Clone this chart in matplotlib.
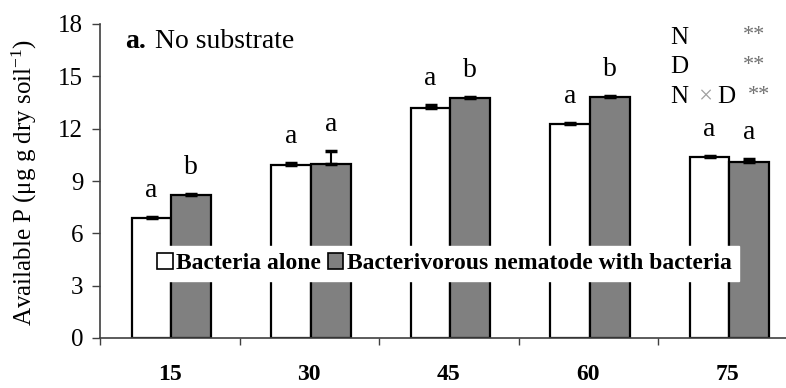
import numpy as np
import matplotlib
matplotlib.use("Agg")
import matplotlib.pyplot as plt
from matplotlib.patches import Patch

plt.rcParams['font.family'] = ['Liberation Serif', 'DejaVu Serif']
plt.rcParams['mathtext.fontset'] = 'custom'
plt.rcParams['mathtext.rm'] = 'Liberation Serif'
plt.rcParams['mathtext.it'] = 'Liberation Serif:italic'

days = ['15', '30', '45', '60', '75']
alone = [6.9, 9.9, 13.2, 12.25, 10.4]
alone_err = [0.05, 0.15, 0.15, 0.06, 0.03]
nema = [8.2, 10.0, 13.75, 13.8, 10.07]
nema_err = [0.06, 0.72, 0.07, 0.07, 0.18]
alone_lett = ['a', 'a', 'a', 'a', 'a']
nema_lett = ['b', 'a', 'b', 'b', 'a']

W, H = 786, 388
fig = plt.figure(figsize=(W / 100, H / 100), dpi=100)
# axis drawn from x=100px, clipped on the right like the original
ax = fig.add_axes([100 / W, 50 / H, 697.5 / W, 314 / H])

x = np.arange(len(days))
bw = 0.285
ax.bar(x - 0.13, alone, bw, color='white', edgecolor='black', linewidth=1.6,
       yerr=[np.zeros(5), alone_err], capsize=4,
       error_kw=dict(elinewidth=1.5, capthick=2.5, ecolor='black'), zorder=2)
ax.bar(x + 0.155, nema, bw, color='#808080', edgecolor='black', linewidth=1.6,
       yerr=[np.zeros(5), nema_err], capsize=4,
       error_kw=dict(elinewidth=1.5, capthick=2.5, ecolor='black'), zorder=2)

for i in range(len(days)):
    ax.text(x[i] - 0.13, alone[i] + alone_err[i] + 0.8, alone_lett[i],
            ha='center', va='bottom', fontsize=20)
    ax.text(x[i] + 0.155, nema[i] + nema_err[i] + 0.8, nema_lett[i],
            ha='center', va='bottom', fontsize=20)

ax.set_xlim(-0.5, 4.5)
ax.set_ylim(0, 18)
ax.set_yticks(np.arange(0, 19, 3))
ax.set_xticks(x)
ax.set_xticklabels(days, fontsize=17, fontweight='bold')
ax.set_xticks(np.arange(-0.5, 5, 1), minor=True)
ax.tick_params(axis='x', which='major', length=0, pad=19)
ax.tick_params(axis='x', which='minor', length=5, width=1, color='#404040', direction='out')
ax.tick_params(axis='y', length=6, width=1, color='#404040', labelsize=18, pad=6)

for s in ['top', 'right']:
    ax.spines[s].set_visible(False)
for s in ['left', 'bottom']:
    ax.spines[s].set_color('#404040')
    ax.spines[s].set_linewidth(1.2)

ax.set_ylabel('Available P (\u03bcg g dry soil$^{-1}$)', fontsize=18)
ax.yaxis.set_label_coords(-0.088, 0.495)

ax.text(25 / 697.5, (338 - 42) / 314, 'a.', transform=ax.transAxes,
        fontsize=20, fontweight='bold', va='center', ha='left')
ax.text(55 / 697.5, (338 - 42) / 314, 'No substrate', transform=ax.transAxes,
        fontsize=20, va='center', ha='left')

handles = [Patch(facecolor='white', edgecolor='black', linewidth=1.2),
           Patch(facecolor='#808080', edgecolor='black', linewidth=1.2)]
leg = ax.legend(handles, ['Bacteria alone', 'Bacterivorous nematode with bacteria'],
                ncol=2, loc='upper left', bbox_to_anchor=(0.072, 0.294),
                borderaxespad=0, frameon=True, fancybox=False, framealpha=1,
                edgecolor='white', handlelength=0.65, handleheight=0.65,
                handletextpad=0.15, columnspacing=0.3, borderpad=0.3,
                prop=dict(size=17, weight='bold'))
leg.set_zorder(5)

# significance block, upper right
fig.text(670 / W, 1 - 38 / H, 'N', fontsize=18, va='center', ha='left')
fig.text(670 / W, 1 - 67 / H, 'D', fontsize=18, va='center', ha='left')
fig.text(670 / W, 1 - 97 / H, 'N', fontsize=18, va='center', ha='left')
fig.text(705 / W, 1 - 97 / H, '\u00d7', fontsize=18, va='center', ha='center', color='#a0a0a0')
fig.text(717 / W, 1 - 97 / H, 'D', fontsize=18, va='center', ha='left')
fig.text(743 / W, 1 - 35 / H, '**', fontsize=16, va='center', ha='left', color='#707070')
fig.text(743 / W, 1 - 65 / H, '**', fontsize=16, va='center', ha='left', color='#707070')
fig.text(748 / W, 1 - 95 / H, '**', fontsize=16, va='center', ha='left', color='#707070')

fig.savefig('out.png', dpi=100)
